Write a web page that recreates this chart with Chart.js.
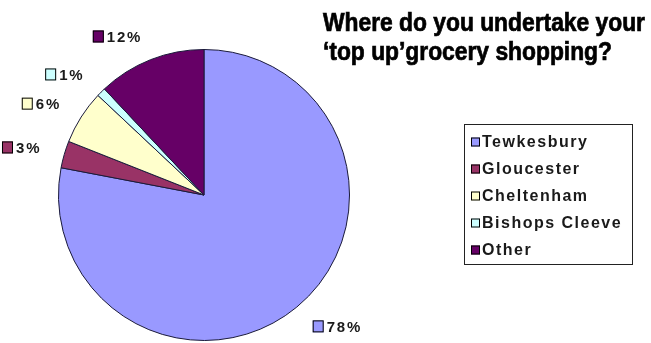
<!DOCTYPE html>
<html>
<head>
<meta charset="utf-8">
<script src="https://cdn.jsdelivr.net/npm/chart.js@4/dist/chart.umd.min.js"></script>
<style>
  html, body { margin: 0; padding: 0; background: #fff; }
  #wrap { width: 651px; height: 343px; }
</style>
</head>
<body>
<div id="wrap"><canvas id="chart" width="651" height="343"></canvas></div>
<script>
// Daten
const categories = ["Tewkesbury", "Gloucester", "Cheltenham", "Bishops Cleeve", "Other"];
const shares = [78, 3, 6, 1, 12];
const titleLines = ["Where do you undertake your", "\u2018top up\u2019grocery shopping?"];

const colours = ["#9999ff", "#993366", "#ffffcc", "#ccffff", "#660066"];

// Beschriftungen, Titel und Legende selbst zeichnen
const extras = {
  id: "extras",
  afterDatasetsDraw(chart) {
    const ctx = chart.ctx;
    const meta = chart.getDatasetMeta(0);

    // Prozentwerte neben den Segmenten
    ctx.save();
    ctx.font = "bold 15px 'Liberation Sans', Arial, sans-serif";
    ctx.letterSpacing = "1.8px";
    ctx.textBaseline = "middle";
    meta.data.forEach((arc, i) => {
      const p = arc.getProps(["x", "y", "startAngle", "endAngle", "outerRadius"], true);
      const mid = (p.startAngle + p.endAngle) / 2;
      const d = p.outerRadius + 25;
      const lx = p.x + Math.cos(mid) * d;
      const ly = p.y + Math.sin(mid) * d;
      const text = shares[i] + "%";
      const tw = ctx.measureText(text).width;
      let sx;
      if (Math.cos(mid) < 0) {
        sx = lx - tw - 13;
      } else {
        sx = lx;
      }
      ctx.fillStyle = colours[i];
      ctx.fillRect(sx, ly - 6, 11, 12);
      ctx.strokeStyle = "#000";
      ctx.lineWidth = 1;
      ctx.strokeRect(sx + 0.5, ly - 5.5, 10, 11);
      ctx.fillStyle = "#1a1a1a";
      ctx.textAlign = "left";
      ctx.fillText(text, sx + 14, ly + 1);
    });
    ctx.restore();

    // Titel
    ctx.save();
    ctx.fillStyle = "#000";
    ctx.strokeStyle = "#000";
    ctx.lineWidth = 0.7;
    ctx.textBaseline = "alphabetic";
    ctx.font = "bold 25px 'Liberation Sans Narrow', 'Liberation Sans', Arial, sans-serif";
    const targetW = 322;
    const scaleX = targetW / ctx.measureText(titleLines[0]).width;
    titleLines.forEach((line, i) => {
      ctx.save();
      ctx.translate(323, 31 + i * 29);
      ctx.scale(scaleX, 1);
      ctx.fillText(line, 0, 0);
      ctx.strokeText(line, 0, 0);
      ctx.restore();
    });
    ctx.restore();

    // Legende
    ctx.save();
    ctx.strokeStyle = "#222";
    ctx.lineWidth = 1;
    ctx.strokeRect(464.5, 124.5, 168, 140);
    ctx.font = "bold 16px 'Liberation Sans', Arial, sans-serif";
    ctx.letterSpacing = "1.5px";
    ctx.textBaseline = "middle";
    categories.forEach((name, i) => {
      const y = 142 + i * 27;
      ctx.fillStyle = colours[i];
      ctx.fillRect(471, y - 4.5, 9, 9);
      ctx.strokeStyle = "#000";
      ctx.strokeRect(471.5, y - 4, 8, 8);
      ctx.fillStyle = "#1a1a1a";
      ctx.fillText(name, 482, y + 1);
    });
    ctx.restore();
  }
};

new Chart(document.getElementById("chart"), {
  type: "pie",
  data: {
    labels: categories,
    datasets: [{
      data: shares,
      backgroundColor: colours,
      borderColor: "#1a1a3a",
      borderWidth: 1,
      hoverOffset: 0
    }]
  },
  options: {
    responsive: false,
    animation: false,
    layout: { padding: { left: 58, right: 301, top: 49, bottom: 2 } },
    plugins: {
      legend: { display: false },
      tooltip: { enabled: false },
      title: { display: false }
    }
  },
  plugins: [extras]
});
</script>
</body>
</html>
